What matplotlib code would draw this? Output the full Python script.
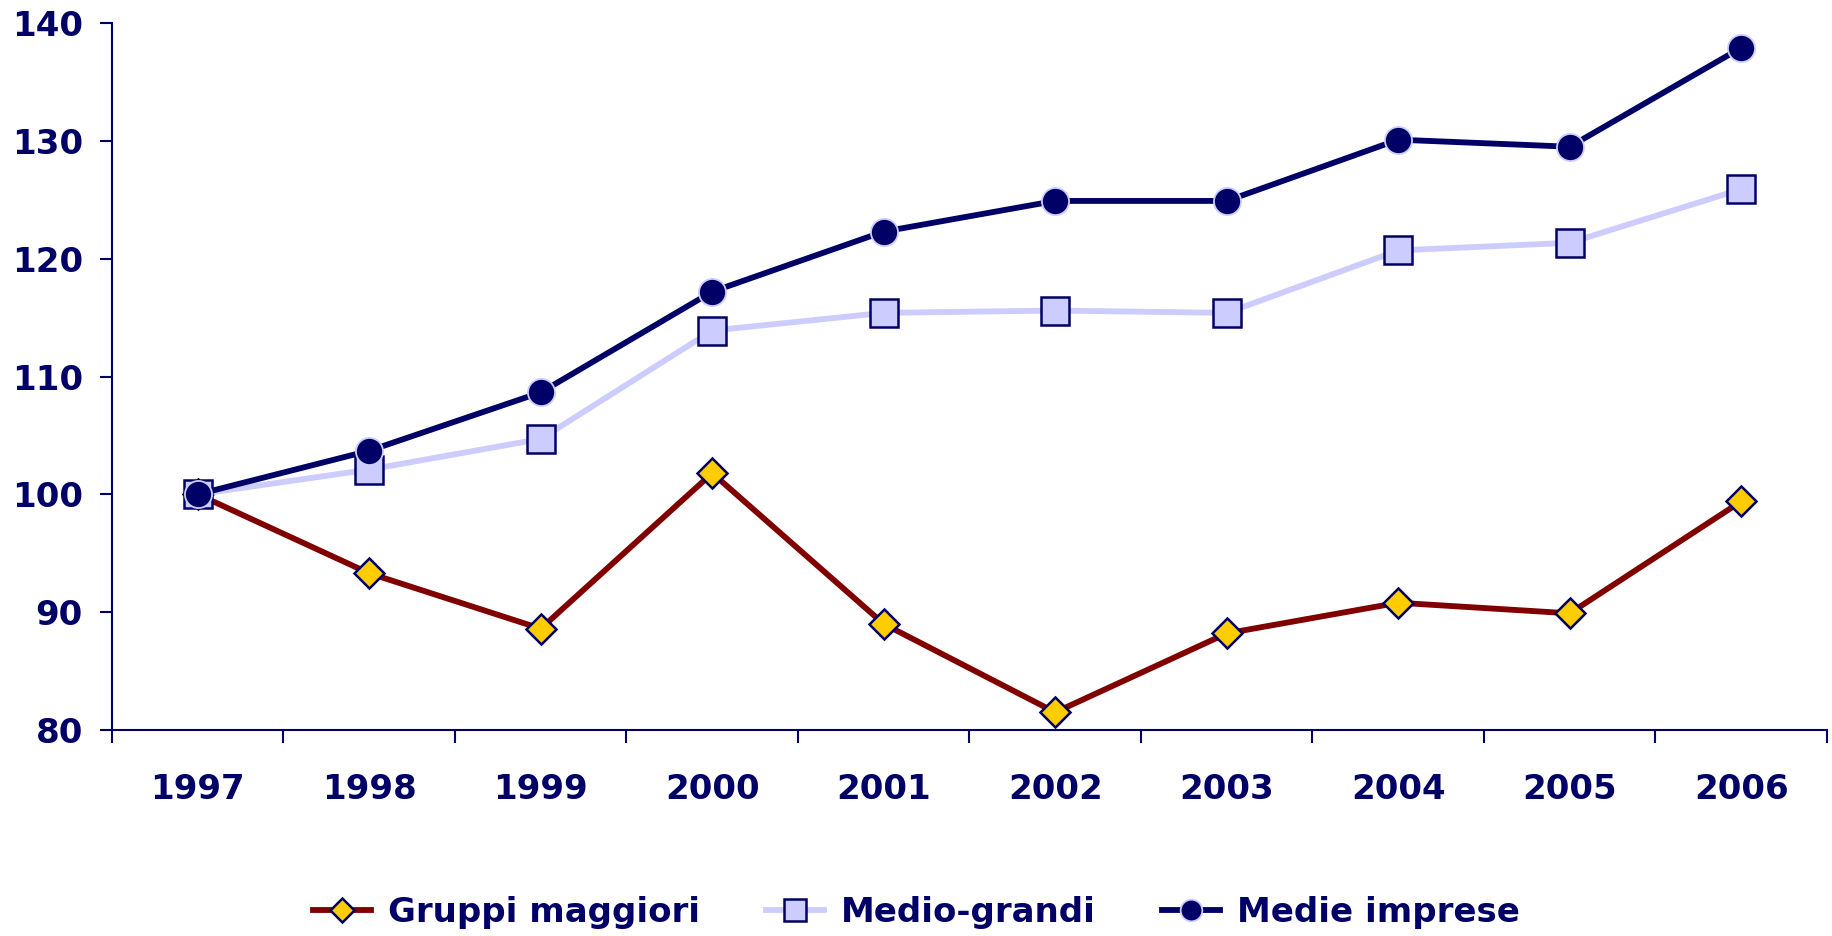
import matplotlib.pyplot as plt
import numpy as np

years = ['1997', '1998', '1999', '2000', '2001', '2002', '2003', '2004', '2005', '2006']
gruppi_maggiori = [100.0, 93.3, 88.6, 101.8, 89.0, 81.5, 88.2, 90.8, 89.9, 99.4]
medio_grandi = [100.0, 102.1, 104.7, 113.9, 115.4, 115.6, 115.4, 120.7, 121.35, 125.9]
medie_imprese = [100.0, 103.7, 108.65, 117.2, 122.3, 124.9, 124.9, 130.1, 129.5, 137.9]

NAVY = '#000066'
plt.rcParams['font.family'] = 'DejaVu Sans'
plt.rcParams['font.weight'] = 'bold'

fig = plt.figure(figsize=(18.33, 9.36), dpi=100)
ax = fig.add_axes([0.0611, 0.2201, 0.9356, 0.7553])

X = np.arange(len(years))
ax.plot(X, gruppi_maggiori, color='#800000', lw=4.2, marker='D', ms=15,
        mfc='#FFCC00', mec=NAVY, mew=1.8, label='Gruppi maggiori', zorder=3)
ax.plot(X, medio_grandi, color='#CCCCFF', lw=4.2, marker='s', ms=20,
        mfc='#CCCCFF', mec=NAVY, mew=1.8, label='Medio-grandi', zorder=4)
ax.plot(X, medie_imprese, color=NAVY, lw=4.2, marker='o', ms=19.5,
        mfc=NAVY, mec='#CCCCFF', mew=1.3, label='Medie imprese', zorder=5)

ax.set_xlim(-0.5, len(years) - 0.5)
ax.set_ylim(80, 140)
ax.set_yticks([80, 90, 100, 110, 120, 130, 140])

# boundary ticks between categories, labels at centres
ax.set_xticks(np.arange(len(years) + 1) - 0.5)
ax.set_xticklabels([])
ax.set_xticks(X, minor=True)
ax.set_xticklabels(years, minor=True)
ax.tick_params(axis='x', which='major', length=9, width=1.5, color=NAVY, direction='out')
ax.tick_params(axis='x', which='minor', length=0, pad=31, labelsize=24.5, labelcolor=NAVY)
ax.tick_params(axis='y', length=9, width=1.5, color=NAVY, pad=12, labelsize=24.5, labelcolor=NAVY)

for s in ['top', 'right']:
    ax.spines[s].set_visible(False)
for s in ['left', 'bottom']:
    ax.spines[s].set_color(NAVY)
    ax.spines[s].set_linewidth(1.5)

leg = ax.legend(loc='center', bbox_to_anchor=(0.5, 0.025), bbox_transform=fig.transFigure,
                ncol=3, frameon=False, fontsize=24.5, handlelength=1.7,
                handletextpad=0.5, columnspacing=1.95, markerscale=0.8)
for t in leg.get_texts():
    t.set_color(NAVY)

fig.savefig('out.png', dpi=100)
